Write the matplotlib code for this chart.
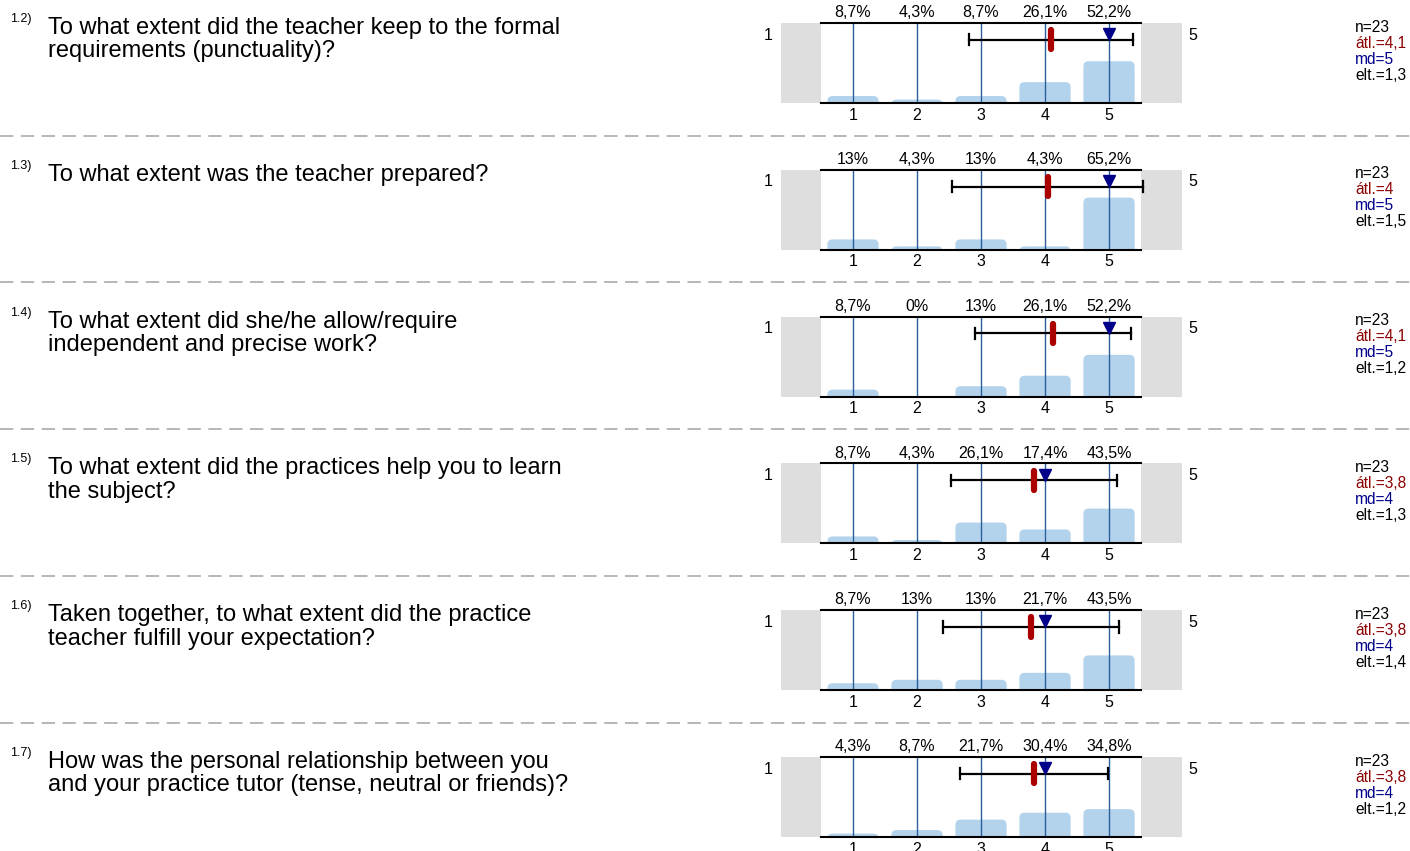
import numpy as np
import matplotlib
matplotlib.use("Agg")
import matplotlib.pyplot as plt
from matplotlib.lines import Line2D
from matplotlib.patches import FancyBboxPatch, Rectangle

plt.rcParams['font.family'] = ['Liberation Sans', 'DejaVu Sans']

# --- data ---
q_numbers = ["1.2)", "1.3)", "1.4)", "1.5)", "1.6)", "1.7)"]
questions = [
    "To what extent did the teacher keep to the formal\nrequirements (punctuality)?",
    "To what extent was the teacher prepared?",
    "To what extent did she/he allow/require\nindependent and precise work?",
    "To what extent did the practices help you to learn\nthe subject?",
    "Taken together, to what extent did the practice\nteacher fulfill your expectation?",
    "How was the personal relationship between you\nand your practice tutor (tense, neutral or friends)?",
]
categories = [1, 2, 3, 4, 5]
percents = [
    [8.7, 4.3, 8.7, 26.1, 52.2],
    [13, 4.3, 13, 4.3, 65.2],
    [8.7, 0, 13, 26.1, 52.2],
    [8.7, 4.3, 26.1, 17.4, 43.5],
    [8.7, 13, 13, 21.7, 43.5],
    [4.3, 8.7, 21.7, 30.4, 34.8],
]
n_resp = [23, 23, 23, 23, 23, 23]
means = [4.09, 4.04, 4.13, 3.83, 3.78, 3.83]
medians = [5, 5, 5, 4, 4, 4]
sds = [1.28, 1.49, 1.22, 1.30, 1.38, 1.16]

W, H = 1410, 851
fig = plt.figure(figsize=(W / 100, H / 100), dpi=100)


def fx(x):
    return x / W


def fy(y):
    return 1 - y / H


def fmt(v):
    s = f"{v:.1f}"
    if s.endswith(".0"):
        s = s[:-2]
    return s.replace(".", ",")


bar_col = "#b3d3ec"
line_col = "#2a5f9a"
step = 146.8
small = 11.5

for i in range(len(questions)):
    top = 23 + i * step
    ax = fig.add_axes([fx(781), fy(top + 80), fx(401), 80 / H])
    ax.set_xlim(-0.125, 6.14)
    ax.set_ylim(0, 100)
    ax.axis("off")

    # grey end boxes
    ax.add_patch(Rectangle((-0.125, 0), 0.625, 100, color="#dedede", lw=0))
    ax.add_patch(Rectangle((5.5, 0), 0.64, 100, color="#dedede", lw=0))

    # rounded bars
    for c, p in zip(categories, percents[i]):
        if p <= 0:
            continue
        ax.add_patch(FancyBboxPatch((c - 0.4, -8), 0.8, p + 8,
                                    boxstyle="round,pad=0,rounding_size=0.08",
                                    mutation_aspect=80, fc=bar_col, ec="none"))
    for c in categories:
        ax.vlines(c, 0, 100, color=line_col, lw=1, zorder=3)

    ax.plot([0.5, 5.5], [100, 100], color="black", lw=1.5, clip_on=False, zorder=4)
    ax.plot([0.5, 5.5], [0, 0], color="black", lw=1.5, clip_on=False, zorder=4)

    # mean +- sd, mean, median
    lo, hi = means[i] - sds[i], means[i] + sds[i]
    ax.plot([lo, hi], [79, 79], color="black", lw=1.6, zorder=5, clip_on=False)
    ax.plot([lo, lo], [72, 86], color="black", lw=1.6, zorder=5, clip_on=False)
    ax.plot([hi, hi], [72, 86], color="black", lw=1.6, zorder=5, clip_on=False)
    ax.plot([means[i], means[i]], [67, 91], color="#aa0000", lw=4.5,
            solid_capstyle="round", zorder=6)
    ax.plot(medians[i], 86, marker="v", ms=9, color="#000088", zorder=7,
            clip_on=False)

    # labels
    for c, p in zip(categories, percents[i]):
        ax.text(c, 113, fmt(p) + "%", ha="center", va="center", fontsize=small)
        ax.text(c, -15, str(c), ha="center", va="center", fontsize=small)
    fig.text(fx(768), fy(top + 12), "1", ha="center", va="center", fontsize=small)
    fig.text(fx(1193), fy(top + 12), "5", ha="center", va="center", fontsize=small)

    # question text
    fig.text(fx(10), fy(top - 4), q_numbers[i], ha="left", va="center", fontsize=9)
    fig.text(fx(48), fy(top - 6), questions[i], ha="left", va="top",
             fontsize=17, linespacing=1.08)

    # stats
    stats = [(f"n={n_resp[i]}", "black"), (f"átl.={fmt(means[i])}", "#8b0000"),
             (f"md={medians[i]}", "#00008b"), (f"elt.={fmt(sds[i])}", "black")]
    for k, (s, col) in enumerate(stats):
        fig.text(fx(1355), fy(top + 4 + k * 16), s, ha="left", va="center",
                 fontsize=11.2, color=col)

    # separator
    if i < len(questions) - 1:
        ysep = top + 112.5
        fig.add_artist(Line2D([0, 1], [fy(ysep), fy(ysep)], transform=fig.transFigure,
                              color="#aaaaaa", lw=1.2, ls=(0, (8, 4.5))))

fig.savefig("out.png", dpi=100)
